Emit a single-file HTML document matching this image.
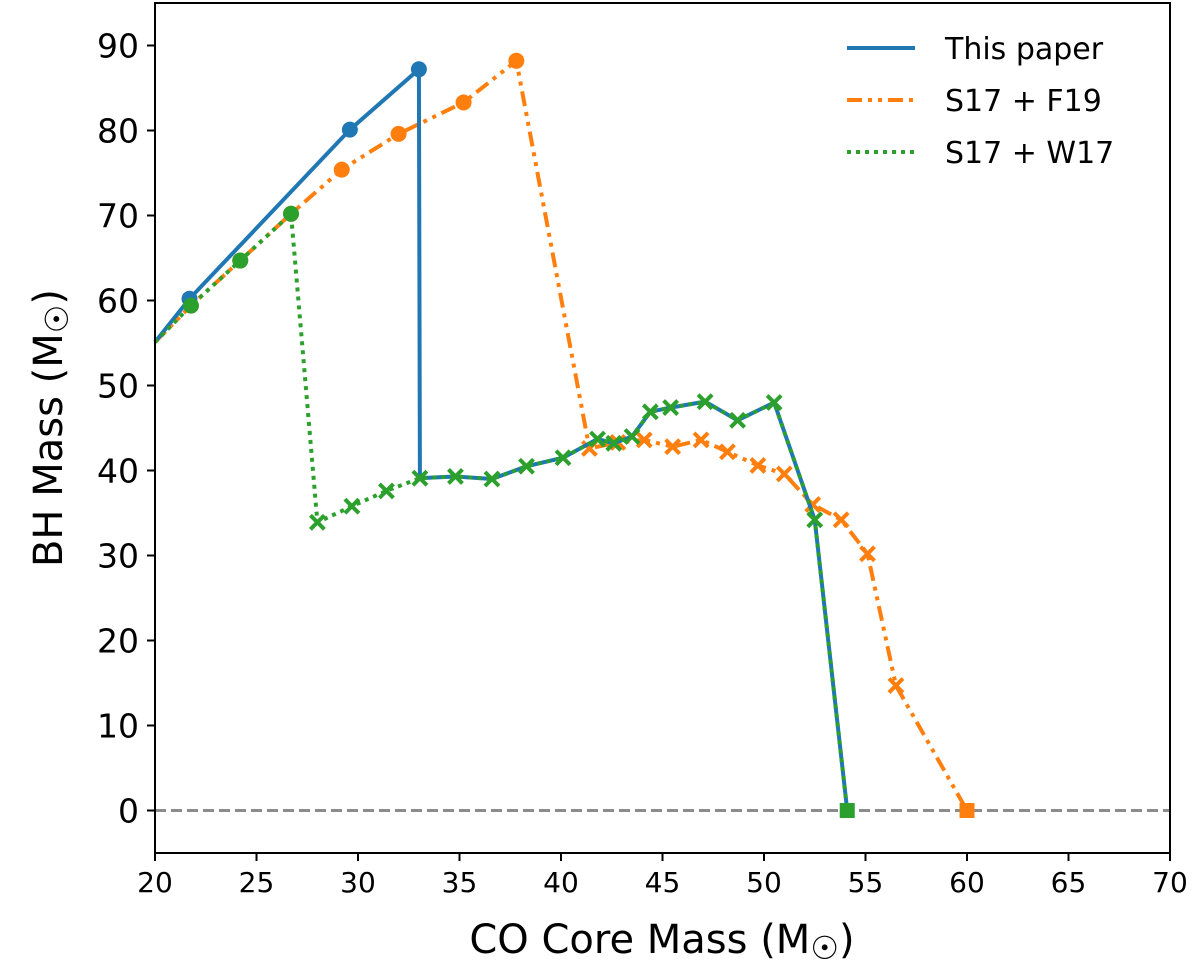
<!DOCTYPE html>
<html><head><meta charset="utf-8"><style>
body{margin:0;background:#fff}
svg text{font-family:"DejaVu Sans","Liberation Sans",sans-serif}
</style></head><body>
<svg id="c" width="1200" height="971"></svg>
<script>
const xTicks=[20,25,30,35,40,45,50,55,60,65,70];
const yTicks=[0,10,20,30,40,50,60,70,80,90];
const blueX=[20,21.7,29.6,33.0,33.05,34.8,36.6,38.3,40.1,41.8,42.6,43.5,44.4,45.4,47.1,48.7,50.5,52.5,54.1];
const blueY=[55.1,60.2,80.1,87.2,39.1,39.3,39.0,40.5,41.5,43.7,43.2,44.0,46.9,47.4,48.1,45.9,48.0,34.2,0];
const blueCircleIdx=[1,2,3];
const greenX=[20,21.77,24.2,26.7,28.0,29.7,31.4,33.05,34.8,36.6,38.3,40.1,41.8,42.6,43.5,44.4,45.4,47.1,48.7,50.5,52.5,54.1];
const greenY=[55.1,59.4,64.7,70.2,33.9,35.8,37.6,39.1,39.3,39.0,40.5,41.5,43.7,43.2,44.0,46.9,47.4,48.1,45.9,48.0,34.2,0];
const greenCircles=3;
const orangeX=[20,21.77,24.2,26.7,29.2,32.0,35.2,37.8,41.4,42.8,44.1,45.5,46.9,48.2,49.7,51.0,52.4,53.8,55.1,56.5,60.0];
const orangeY=[55.1,59.4,64.7,70.2,75.4,79.6,83.3,88.2,42.6,43.3,43.6,42.8,43.6,42.2,40.6,39.6,36.0,34.2,30.2,14.7,0];
const orangeCircles=7;
const L=155,R=1170,T=3,B=853,xmin=20,xmax=70,ymin=-5,ymax=95;
const X=v=>L+(v-xmin)/(xmax-xmin)*(R-L);
const Y=v=>B-(v-ymin)/(ymax-ymin)*(B-T);
const svg=document.getElementById('c');
const NS='http://www.w3.org/2000/svg';
function mk(t,a,p){const e=document.createElementNS(NS,t);for(const k in a)e.setAttribute(k,a[k]);(p||svg).appendChild(e);return e;}
let z=mk('line',{x1:L,x2:R,y1:Y(0),y2:Y(0),stroke:'#8c8c8c','stroke-width':3,'stroke-dasharray':'11,5'});


function series(xs,ys,color,dash,name){
  const g=mk('g',{});
  
  
  const pts=xs.map((x,i)=>X(x)+','+Y(ys[i])).join(' ');
  const a={points:pts,fill:'none',stroke:color,'stroke-width':4};
  if(dash)a['stroke-dasharray']=dash;
  mk('polyline',a,g);
  return g;
}
function circle(g,x,y,c){mk('circle',{cx:X(x),cy:Y(y),r:8,fill:c},g);}
function cross(g,x,y,c){const cx=X(x),cy=Y(y),s=7;mk('path',{d:`M${cx-s},${cy-s}L${cx+s},${cy+s}M${cx-s},${cy+s}L${cx+s},${cy-s}`,stroke:c,'stroke-width':4},g);}
function square(g,x,y,c){mk('rect',{x:X(x)-7.5,y:Y(y)-7.5,width:15,height:15,fill:c},g);}
const BL='#1f77b4',OR='#ff7f0e',GR='#2ca02c';
let go=series(orangeX,orangeY,OR,'15,6,4,6,4,6','series-s17-f19');
orangeX.forEach((x,i)=>{if(i==0)return;if(i<=orangeCircles)circle(go,x,orangeY[i],OR);else if(i==orangeX.length-1)square(go,x,orangeY[i],OR);else cross(go,x,orangeY[i],OR);});
let gb=series(blueX,blueY,BL,null,'series-this-paper');
blueCircleIdx.forEach(i=>circle(gb,blueX[i],blueY[i],BL));
let gg=series(greenX,greenY,GR,'4,5','series-s17-w17');
greenX.forEach((x,i)=>{if(i==0)return;if(i<=greenCircles)circle(gg,x,greenY[i],GR);else if(i==greenX.length-1)square(gg,x,greenY[i],GR);else cross(gg,x,greenY[i],GR);});
let f=mk('rect',{x:L,y:T,width:R-L,height:B-T,fill:'none',stroke:'#000','stroke-width':2});


xTicks.forEach(v=>{mk('line',{x1:X(v),x2:X(v),y1:B,y2:B+8,stroke:'#000','stroke-width':2});
 const t=mk('text',{x:X(v),y:B+39,'text-anchor':'middle','font-size':28});t.textContent=v;
 
 });
yTicks.forEach(v=>{mk('line',{x1:L-8,x2:L,y1:Y(v),y2:Y(v),stroke:'#000','stroke-width':2});
 const t=mk('text',{x:L-16,y:Y(v)+12,'text-anchor':'end','font-size':33});t.textContent=v;
 
 });
</script>
<svg style="position:absolute;left:0;top:0" width="1200" height="971">
<text x="662" y="953" text-anchor="middle" font-size="40" font-family="DejaVu Sans,sans-serif">CO Core Mass (M<tspan font-size="32" dy="6">☉</tspan><tspan dy="-6">)</tspan></text>
<text transform="translate(62,428) rotate(-90)" text-anchor="middle" font-size="40" font-family="DejaVu Sans,sans-serif">BH Mass (M<tspan font-size="32" dy="6">☉</tspan><tspan dy="-6">)</tspan></text>
<g font-family="DejaVu Sans,sans-serif" font-size="30">
<g><line x1="847" x2="915" y1="48" y2="48" stroke="#1f77b4" stroke-width="4"/><text x="945" y="59">This paper</text></g>
<g><line x1="847" x2="915" y1="100" y2="100" stroke="#ff7f0e" stroke-width="4" stroke-dasharray="15,6,4,6,4,6"/><text x="945" y="111">S17 + F19</text></g>
<g><line x1="847" x2="915" y1="152" y2="152" stroke="#2ca02c" stroke-width="4" stroke-dasharray="4,5"/><text x="945" y="163">S17 + W17</text></g>
</g>
</svg>
</body></html>
